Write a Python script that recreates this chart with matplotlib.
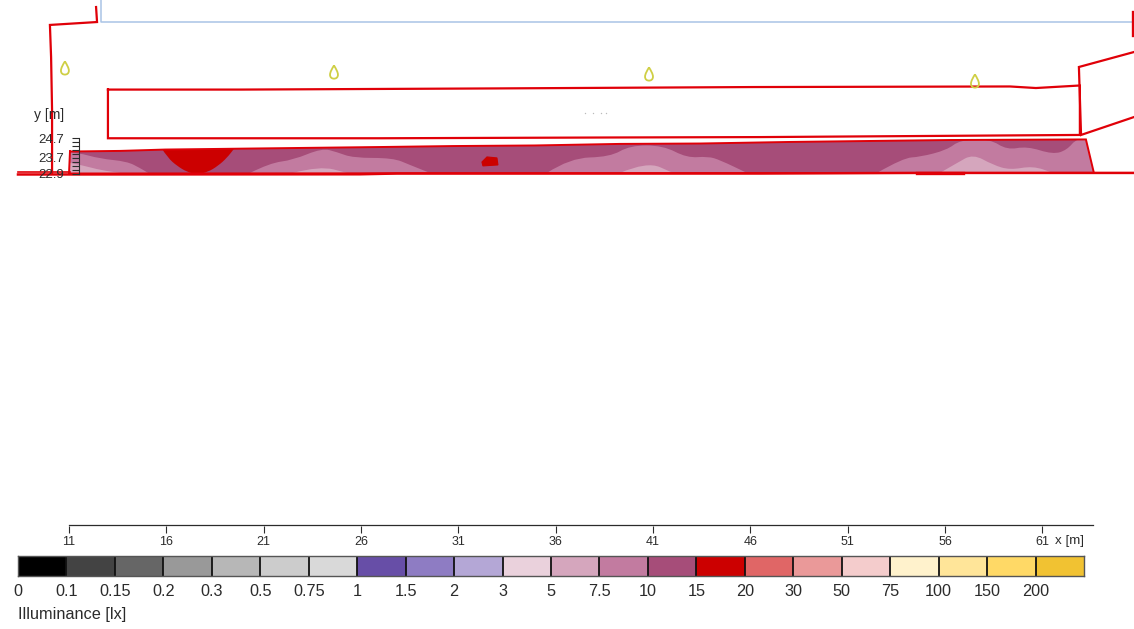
import matplotlib
matplotlib.use("Agg")
import matplotlib.pyplot as plt
from matplotlib.patches import PathPatch, Polygon
from matplotlib.path import Path

plt.rcParams["font.family"] = ["Liberation Sans", "DejaVu Sans"]

# legend classes
class_labels = ["0", "0.1", "0.15", "0.2", "0.3", "0.5", "0.75", "1", "1.5", "2", "3",
                "5", "7.5", "10", "15", "20", "30", "50", "75", "100", "150", "200"]
class_colors = ["#000000", "#434343", "#666666", "#999999", "#b7b7b7", "#cccccc", "#d9d9d9",
                "#674ea7", "#8e7cc3", "#b4a7d6", "#ead1dc", "#d5a6bd", "#c27ba0", "#a64d79",
                "#cc0000", "#e06666", "#ea9999", "#f4cccc", "#fff2cc", "#ffe599", "#ffd966", "#f1c232"]

x_ticks = [11, 16, 21, 26, 31, 36, 41, 46, 51, 56, 61]
y_ticks = [22.9, 23.7, 24.7]
y_minor = [23.1, 23.3, 23.5, 23.9, 24.1, 24.3, 24.5]

# calculation area outline, metres
floor_x = [11.05, 13.62, 15.93, 26.97, 30.72, 34.93, 39.30, 43.41, 48.03, 52.14, 56.25, 63.23, 63.64, 11.0]
floor_y = [24.03, 24.06, 24.13, 24.26, 24.31, 24.34, 24.42, 24.44, 24.52, 24.57, 24.62, 24.65, 22.93, 22.9]

# 7.5 - 10 lx zones, isolines run from the base up and back to the base
mid_zones = [
    ([10.9, 11.46, 12.59, 13.98, 14.65, 15.06], [24.0, 23.97, 23.66, 23.52, 23.18, 22.93]),
    ([20.30, 21.32, 22.50, 23.99, 24.76, 25.59, 27.64, 28.51, 29.54],
     [22.93, 23.44, 23.59, 24.20, 24.0, 23.70, 23.70, 23.34, 22.93]),
    ([35.55, 36.73, 38.79, 39.81, 41.51, 42.74, 43.82, 44.44, 45.82],
     [22.93, 23.70, 23.75, 24.34, 24.34, 23.70, 23.78, 23.59, 22.93]),
    ([52.50, 53.84, 54.71, 56.10, 56.76, 58.30, 59.18, 60.20, 61.54, 62.26, 62.77, 63.80],
     [22.93, 23.70, 23.75, 24.11, 24.62, 24.67, 24.11, 24.30, 23.88, 24.11, 24.72, 24.72]),
]
# 5 - 7.5 lx zones
light_zones = [
    ([10.9, 11.82, 12.59, 13.62], [23.48, 23.29, 23.08, 22.93]),
    ([22.50, 23.89, 25.28], [22.93, 23.29, 22.93]),
    ([39.30, 40.69, 42.02], [22.93, 23.52, 22.93]),
    ([55.73, 56.61, 57.43, 58.46, 59.33, 60.51, 61.54],
     [22.93, 23.44, 23.90, 23.34, 23.08, 23.29, 22.93]),
]
# 15 - 20 lx zones
red_x = [15.75, 16.08, 16.55, 17.06, 17.57, 18.14, 18.65, 19.11, 19.50]
red_y = [24.20, 23.70, 23.29, 22.98, 22.85, 22.98, 23.29, 23.70, 24.20]
blob_x = [32.21, 32.47, 32.98, 33.03, 32.26]
blob_y = [23.49, 23.75, 23.70, 23.34, 23.29]

# building outlines
wall_x = [12.39, 12.44, 10.02, 10.08, 10.13, 10.13]
wall_y = [31.45, 30.68, 30.53, 28.88, 26.16, 22.93]
ground_x = [8.38, 25.95, 27.85, 46.49, 54.71, 65.70]
ground_y = [22.85, 22.86, 22.9, 22.9, 22.93, 22.93]
kerb_x = [8.38, 11.05]
kerb_y = [22.99, 22.99]
heavy_x = [54.55, 56.92]
heavy_y = [22.92, 22.92]
rect_x = [13.0, 19.78, 32.98, 46.13, 59.33, 60.66, 62.92, 62.92, 46.49, 38.89, 26.97, 13.0, 13.0]
rect_y = [27.21, 27.21, 27.27, 27.34, 27.37, 27.29, 27.42, 24.88, 24.77, 24.75, 24.71, 24.71, 27.21]
right_x = [65.70, 62.87, 62.98, 65.70]
right_y = [29.14, 28.37, 24.88, 25.80]
edge_x = [65.65, 65.65]
edge_y = [31.19, 30.01]
blue_x = [12.64, 12.64, 65.70]
blue_y = [31.81, 30.68, 30.68]

lum_x = [10.79, 24.61, 40.79, 57.53]
lum_y = [28.32, 28.11, 28.01, 27.65]
speck_x = [37.5, 37.9, 38.3, 38.6]
speck_y = [26.0, 26.0, 26.0, 26.0]

W, H = 1134, 629
PX_PER_M = 19.47
RED = "#e00008"
TEXT = "#2b2b2b"


def px_axes(fig, left, top, right, bottom):
    return fig.add_axes([left / W, 1 - bottom / H, (right - left) / W, (bottom - top) / H])


def rounded_zone(xs, ys, close_y=22.7):
    # quadratic curves between the read points, closed beyond the floor edge
    pts = list(zip(xs, ys))
    verts = [pts[0]]
    codes = [Path.MOVETO]
    for i in range(1, len(pts) - 1):
        mid = ((pts[i][0] + pts[i + 1][0]) / 2, (pts[i][1] + pts[i + 1][1]) / 2)
        verts += [pts[i], mid]
        codes += [Path.CURVE3, Path.CURVE3]
    verts += [pts[-1], (pts[-1][0], close_y), (pts[0][0], close_y), pts[0]]
    codes += [Path.LINETO, Path.LINETO, Path.LINETO, Path.CLOSEPOLY]
    return Path(verts, codes)


fig = plt.figure(figsize=(W / 100, H / 100), dpi=100)

# plan view, whole figure in metres
ax = px_axes(fig, 0, 0, W, H)
ax.set_xlim(11 - 69 / PX_PER_M, 11 + (W - 69) / PX_PER_M)
ax.set_ylim(22.9 - (H - 173.5) / PX_PER_M, 22.9 + 173.5 / PX_PER_M)
ax.axis("off")

floor = Polygon(list(zip(floor_x, floor_y)), closed=True, facecolor=class_colors[13], edgecolor="none", zorder=1)
ax.add_patch(floor)
for zones, color in [(mid_zones, class_colors[12]), (light_zones, class_colors[11])]:
    for zx, zy in zones:
        p = PathPatch(rounded_zone(zx, zy), facecolor=color, edgecolor="none", zorder=2)
        ax.add_patch(p)
        p.set_clip_path(floor)
red_zone = PathPatch(rounded_zone(red_x, red_y, close_y=24.7), facecolor=class_colors[14], edgecolor="none", zorder=2)
ax.add_patch(red_zone)
red_zone.set_clip_path(floor)
ax.add_patch(Polygon(list(zip(blob_x, blob_y)), closed=True, facecolor=class_colors[14], edgecolor=class_colors[14],
                     lw=0.8, zorder=2))

ax.plot(floor_x + floor_x[:1], floor_y + floor_y[:1], color=RED, lw=1.4, zorder=3, solid_joinstyle="miter")
ax.plot(blue_x, blue_y, color="#a9c4e6", lw=1.1, zorder=3)
for lx, ly, lw in [(wall_x, wall_y, 1.6), (ground_x, ground_y, 1.8), (kerb_x, kerb_y, 1.2), (heavy_x, heavy_y, 2.4),
                   (rect_x, rect_y, 1.6), (right_x, right_y, 1.6), (edge_x, edge_y, 2.4)]:
    ax.plot(lx, ly, color=RED, lw=lw, zorder=4, solid_joinstyle="miter")

drop = Path([(0, 1), (0.3, 0.5), (0.6, 0), (0.6, -0.4), (0.6, -0.85), (0.3, -1), (0, -1),
             (-0.3, -1), (-0.6, -0.85), (-0.6, -0.4), (-0.6, 0), (-0.3, 0.5), (0, 1)],
            [Path.MOVETO] + [Path.CURVE4] * 12)
ax.scatter(lum_x, lum_y, marker=drop, s=90, facecolors="none", edgecolors="#cfcf45", linewidths=1.3, zorder=5)
ax.scatter(speck_x, speck_y, s=1, color="#bbbbbb", linewidths=0, zorder=5)

# y ruler
ax_y = px_axes(fig, 79, 173.5 - 1.8 * PX_PER_M, 90, 173.5)
ax_y.patch.set_alpha(0)
ax_y.set_ylim(22.9, 24.7)
ax_y.set_xticks([])
for s in ["top", "right", "bottom"]:
    ax_y.spines[s].set_visible(False)
ax_y.spines["left"].set_color(TEXT)
ax_y.spines["left"].set_linewidth(0.8)
ax_y.set_yticks(y_ticks)
ax_y.set_yticks(y_minor, minor=True)
ax_y.tick_params(axis="y", which="both", length=5, width=0.8, color=TEXT)
ax_y.tick_params(axis="y", which="major", labelsize=9.5, labelcolor=TEXT, pad=5.5)
fig.text(64 / W, 1 - 115 / H, "y [m]", ha="right", va="center", fontsize=10, color=TEXT)

# x ruler
ax_x = px_axes(fig, 69, 525, 1093, 526)
ax_x.patch.set_alpha(0)
ax_x.set_xlim(11, 11 + 1024 / PX_PER_M)
ax_x.set_yticks([])
for s in ["left", "right", "bottom"]:
    ax_x.spines[s].set_visible(False)
ax_x.spines["top"].set_color(TEXT)
ax_x.spines["top"].set_linewidth(0.9)
ax_x.set_xticks(x_ticks)
ax_x.tick_params(axis="x", length=5, width=0.8, color=TEXT, labelsize=9, labelcolor=TEXT, pad=2.5)
fig.text(1084 / W, 1 - 541 / H, "x [m]", ha="right", va="center", fontsize=9.6, color=TEXT)

# colour legend
ax_c = px_axes(fig, 18, 556, 1084, 575.5)
ax_c.bar(range(len(class_colors)), [1] * len(class_colors), width=1, align="edge", color=class_colors)
ax_c.vlines(range(1, len(class_colors)), 0, 1, color="#111111", lw=1.3)
ax_c.set_xlim(0, len(class_colors))
ax_c.set_ylim(0, 1)
ax_c.set_yticks([])
ax_c.set_xticks(range(len(class_labels)))
ax_c.set_xticklabels(class_labels)
ax_c.tick_params(axis="x", length=0, labelsize=11.7, labelcolor=TEXT, pad=6)
for s in ax_c.spines.values():
    s.set_color("#555555")
    s.set_linewidth(1.0)
fig.text(18 / W, 1 - 615 / H, "Illuminance [lx]", ha="left", va="center", fontsize=11.7, color=TEXT)

fig.savefig("out.png", dpi=100)
